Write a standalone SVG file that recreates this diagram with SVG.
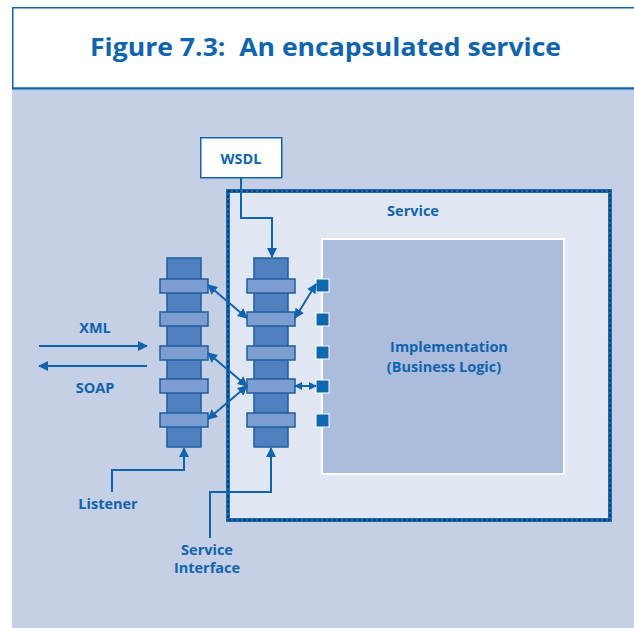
<svg xmlns="http://www.w3.org/2000/svg" width="634" height="628" viewBox="0 0 634 628">
  <defs>
    <style>
      .lbl { font-family: "Open Sans", "Liberation Sans", sans-serif; font-weight: bold; fill: #1064ad; text-anchor: middle; }
      .wire { fill: none; stroke: #1064ad; stroke-width: 2; }
      .col { fill: #4f7fbf; stroke: #1f5f9f; stroke-width: 1.5; }
      .band { fill: #7c9dcf; stroke: #1f5f9f; stroke-width: 1.5; }
      .port { fill: #0e68b0; stroke: #ffffff; stroke-width: 1; }
    </style>
    <marker id="ahS" viewBox="0 0 10 10" refX="9" refY="5" markerWidth="8" markerHeight="9" orient="auto-start-reverse" markerUnits="userSpaceOnUse">
      <path d="M0,0 L10,5 L0,10 z" fill="#1064ad"/>
    </marker>
    <marker id="ahL" viewBox="0 0 10 10" refX="9" refY="5" markerWidth="10" markerHeight="10" orient="auto-start-reverse" markerUnits="userSpaceOnUse">
      <path d="M0,0 L10,5 L0,10 z" fill="#1064ad"/>
    </marker>
  </defs>

  <!-- page background -->
  <rect x="0" y="0" width="634" height="628" fill="#ffffff"/>
  <rect x="12" y="89" width="622" height="539" fill="#c5cfe6"/>

  <!-- title box -->
  <g id="title">
    <rect x="12.75" y="7.75" width="630" height="80.5" fill="#ffffff" stroke="#1064ad" stroke-width="1.5"/>
    <line x1="12" y1="88.5" x2="634" y2="88.5" stroke="#1064ad" stroke-width="2"/>
    <text class="lbl" x="325.5" y="56" font-size="25.5" xml:space="preserve" textLength="471" lengthAdjust="spacingAndGlyphs">Figure 7.3:  An encapsulated service</text>
  </g>

  <!-- service boundary -->
  <g id="service">
    <rect x="228" y="191" width="382" height="329" fill="#e1e6f3" stroke="#1a6ab0" stroke-width="4"/>
    <rect x="228" y="191" width="382" height="329" fill="none" stroke="#0b1d3a" stroke-width="1" stroke-dasharray="3 2"/>
    <text class="lbl" x="413" y="216" font-size="14.5">Service</text>
  </g>

  <!-- implementation box -->
  <g id="implementation">
    <rect x="322" y="239" width="242" height="235" fill="#acbcdd" stroke="#ffffff" stroke-width="2"/>
    <text class="lbl" x="449" y="352" font-size="14.5">Implementation</text>
    <text class="lbl" x="444" y="372" font-size="14.5">(Business Logic)</text>
  </g>

  <!-- WSDL document -->
  <g id="wsdl">
    <rect x="200.75" y="137.75" width="81" height="40" fill="#ffffff" stroke="#1064ad" stroke-width="1.5"/>
    <text class="lbl" x="241" y="164" font-size="14.5">WSDL</text>
  </g>

  <!-- listener stack -->
  <g id="listener">
    <rect class="col" x="167" y="258" width="34" height="189"/>
    <rect class="band" x="160" y="279" width="48" height="14"/>
    <rect class="band" x="160" y="312" width="48" height="14"/>
    <rect class="band" x="160" y="346" width="48" height="14"/>
    <rect class="band" x="160" y="379" width="48" height="14"/>
    <rect class="band" x="160" y="413" width="48" height="14"/>
  </g>

  <!-- service interface stack -->
  <g id="service-interface">
    <rect class="col" x="254" y="258" width="34" height="189"/>
    <rect class="band" x="247" y="279" width="48" height="14"/>
    <rect class="band" x="247" y="312" width="48" height="14"/>
    <rect class="band" x="247" y="346" width="48" height="14"/>
    <rect class="band" x="247" y="379" width="48" height="14"/>
    <rect class="band" x="247" y="413" width="48" height="14"/>
  </g>

  <!-- implementation ports -->
  <g id="ports">
    <rect class="port" x="316" y="279" width="13" height="13"/>
    <rect class="port" x="316" y="313" width="13" height="13"/>
    <rect class="port" x="316" y="346" width="13" height="13"/>
    <rect class="port" x="316" y="380" width="13" height="13"/>
    <rect class="port" x="316" y="414" width="13" height="13"/>
  </g>

  <!-- connectors -->
  <g id="connectors">
    <polyline class="wire" points="241,178 241,218 272,218 272,257" marker-end="url(#ahL)"/>
    <line class="wire" x1="208" y1="285" x2="247" y2="318" marker-start="url(#ahL)" marker-end="url(#ahL)"/>
    <line class="wire" x1="295" y1="318" x2="316" y2="284" marker-start="url(#ahL)" marker-end="url(#ahL)"/>
    <line class="wire" x1="208" y1="353" x2="247" y2="386" marker-start="url(#ahL)" marker-end="url(#ahL)"/>
    <line class="wire" x1="208" y1="419" x2="247" y2="386" marker-start="url(#ahL)" marker-end="url(#ahL)"/>
    <line class="wire" x1="295" y1="386" x2="316" y2="386" marker-start="url(#ahS)" marker-end="url(#ahS)"/>
    <line class="wire" x1="39" y1="346" x2="147" y2="346" stroke-width="1.5" marker-end="url(#ahL)"/>
    <line class="wire" x1="147" y1="366" x2="39" y2="366" stroke-width="1.5" marker-end="url(#ahL)"/>
    <polyline class="wire" points="112,492 112,470 184,470 184,448" marker-end="url(#ahL)"/>
    <polyline class="wire" points="210,538 210,492 271,492 271,448" marker-end="url(#ahL)"/>
  </g>

  <!-- free labels -->
  <g id="labels">
    <text class="lbl" x="95" y="333" font-size="14.5">XML</text>
    <text class="lbl" x="95" y="393" font-size="14.5">SOAP</text>
    <text class="lbl" x="108" y="509" font-size="14.5">Listener</text>
    <text class="lbl" x="207" y="555" font-size="14.5">Service</text>
    <text class="lbl" x="207" y="573" font-size="14.5">Interface</text>
  </g>
</svg>
